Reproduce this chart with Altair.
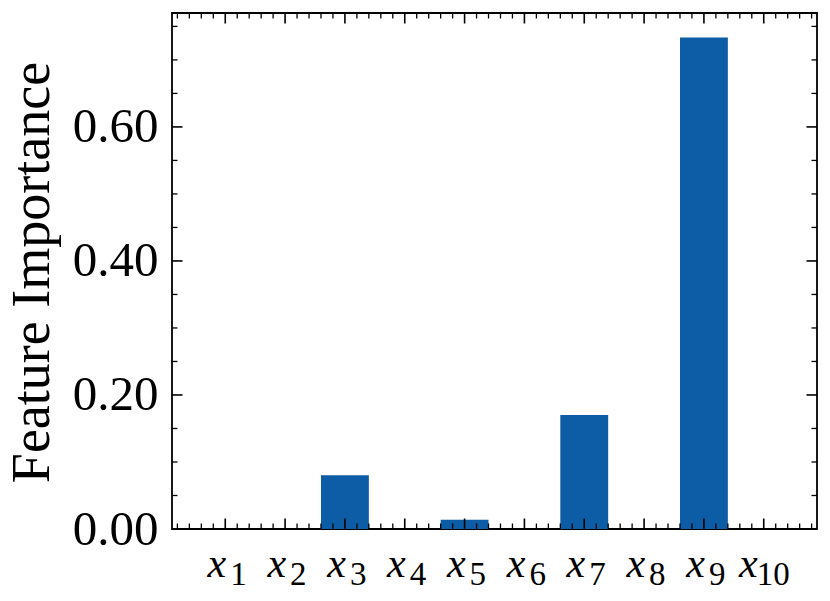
import altair as alt
import pandas as pd

# ---- data ----
features = ["x1", "x2", "x3", "x4", "x5", "x6", "x7", "x8", "x9", "x10"]
subscripts = ["1", "2", "3", "4", "5", "6", "7", "8", "9", "10"]
importance = [0.0, 0.0, 0.0803, 0.0, 0.0137, 0.0, 0.170, 0.0, 0.7336, 0.0]

y_major = [0.0, 0.2, 0.4, 0.6]
y_minor = [0.05, 0.10, 0.15, 0.25, 0.30, 0.35, 0.45, 0.50, 0.55, 0.65, 0.70, 0.75]
x_major = list(range(10))
x_minor = [round(i * 0.2 - 0.8, 1) for i in range(54) if (i % 5) != 4]

df = pd.DataFrame({"idx": list(range(10)), "feature": features,
                   "sub": subscripts, "importance": importance})

W, H = 645, 516
FONT = "'Liberation Serif', 'DejaVu Serif', serif"
MAJ, MIN = 10.5, 5.5

xscale = alt.Scale(domain=[-0.89, 9.89], nice=False, zero=False)
yscale = alt.Scale(domain=[0, 0.770], nice=False)

yaxis = alt.Axis(values=y_major, format=".2f", ticks=False, tickSize=0,
                 domain=False, grid=False, labelFont=FONT,
                 labelFontSize=49, labelColor="black", labelPadding=14,
                 title="Feature Importance", titleFont=FONT,
                 titleFontSize=54, titleFontWeight="normal",
                 titleColor="black", titleAngle=270, titleX=-124,
                 titleY=259, titleAlign="center",
                 titleBaseline="alphabetic")

bars = alt.Chart(df).transform_calculate(
    x0="datum.idx - 0.4", x1="datum.idx + 0.4", base="0"
).mark_bar(color="#0C5DA5").encode(
    x=alt.X("x0:Q", scale=xscale, axis=None),
    x2="x1:Q",
    y=alt.Y("importance:Q", scale=yscale, axis=yaxis),
    y2="base:Q",
)

ymaj = pd.DataFrame({"importance": y_major})
ymin = pd.DataFrame({"importance": y_minor})
xmaj = pd.DataFrame({"p": x_major})
xmin = pd.DataFrame({"p": x_minor})


def yticks(d, length, sw):
    base = alt.Chart(d).mark_rule(color="black", strokeWidth=sw)
    left = base.encode(y=alt.Y("importance:Q", scale=yscale, axis=yaxis),
                       x=alt.value(0), x2=alt.value(length))
    right = base.encode(y=alt.Y("importance:Q", scale=yscale, axis=yaxis),
                        x=alt.value(W), x2=alt.value(W - length))
    return [left, right]


def xticks(d, length, sw):
    base = alt.Chart(d).mark_rule(color="black", strokeWidth=sw)
    bottom = base.encode(x=alt.X("p:Q", scale=xscale, axis=None),
                         y=alt.value(H), y2=alt.value(H - length))
    top = base.encode(x=alt.X("p:Q", scale=xscale, axis=None),
                      y=alt.value(0), y2=alt.value(length))
    return [bottom, top]


ticks = (yticks(ymaj, MAJ, 1.6) + yticks(ymin, MIN, 1.3)
         + xticks(xmaj, MAJ, 1.6) + xticks(xmin, MIN, 1.3))

lab = alt.Chart(df)
xs = alt.X("idx:Q", scale=xscale, axis=None)
x_single = lab.transform_filter("datum.idx < 9").mark_text(
    text="x", font=FONT, fontStyle="italic", fontSize=42, align="right",
    baseline="alphabetic", dx=1, color="black"
).encode(x=xs, y=alt.value(564))
s_single = lab.transform_filter("datum.idx < 9").mark_text(
    font=FONT, fontSize=33, align="left", baseline="alphabetic", dx=5,
    color="black"
).encode(x=xs, y=alt.value(572), text="sub:N")
x_ten = lab.transform_filter("datum.idx >= 9").mark_text(
    text="x", font=FONT, fontStyle="italic", fontSize=42, align="right",
    baseline="alphabetic", dx=-6, color="black"
).encode(x=xs, y=alt.value(564))
s_ten = lab.transform_filter("datum.idx >= 9").mark_text(
    font=FONT, fontSize=33, align="left", baseline="alphabetic", dx=-7,
    color="black"
).encode(x=xs, y=alt.value(572), text="sub:N")

chart = alt.layer(bars, *ticks, x_single, s_single, x_ten, s_ten).properties(
    width=W, height=H,
    background="white",
    autosize=alt.AutoSizeParams(type="none"),
    padding={"left": 164, "top": 5, "right": 5, "bottom": 72},
).configure_view(stroke="black", strokeWidth=1.8)

chart.save("out.html", embed_options={"renderer": "svg", "actions": False})
